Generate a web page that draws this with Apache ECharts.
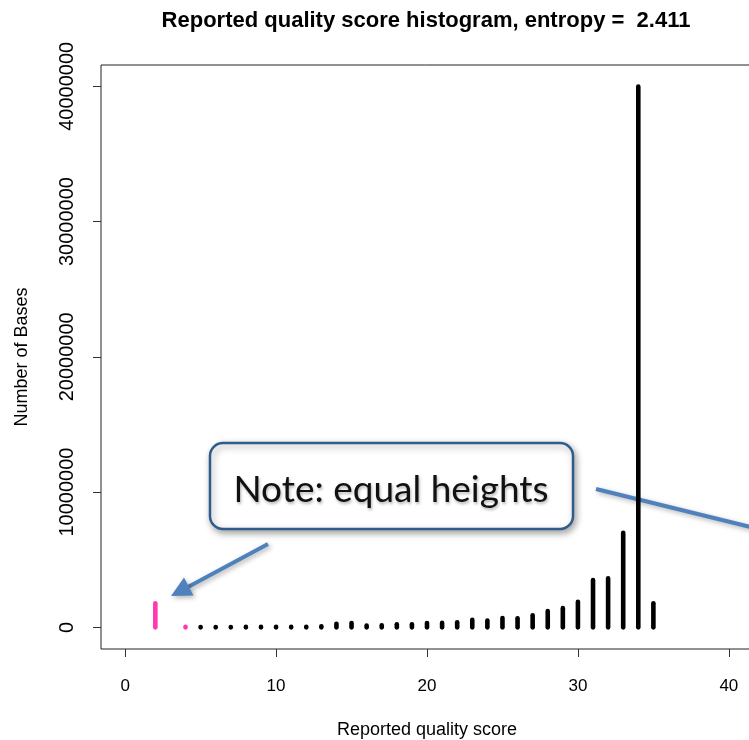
<!DOCTYPE html>
<html>
<head>
<meta charset="utf-8">
<script src="https://cdn.jsdelivr.net/npm/echarts@6/dist/echarts.min.js"></script>
<style>
  html, body { margin: 0; padding: 0; background: #ffffff; }
  #chart { width: 749px; height: 740px; }
</style>
</head>
<body>
<div id="chart"></div>
<script>
// ---- data ----
var titleText = 'Reported quality score histogram, entropy =  2.411';
var xAxisName = 'Reported quality score';
var yAxisName = 'Number of Bases';
var noteText = 'Note: equal heights';

var xTickValues = [0, 10, 20, 30, 40];
var yTickValues = [0, 10000000, 20000000, 30000000, 40000000];

// highlighted (pink) low quality scores
var lowScores = [2, 4];
var lowCounts = [1780000, 40000];

// remaining quality scores
var scores = [5, 6, 7, 8, 9, 10, 11, 12, 13, 14, 15, 16, 17, 18, 19, 20,
              21, 22, 23, 24, 25, 26, 27, 28, 29, 30, 31, 32, 33, 34, 35];
var counts = [30000, 30000, 30000, 35000, 35000, 40000, 35000, 45000, 75000, 270000, 320000,
              130000, 150000, 230000, 230000, 320000, 330000, 380000, 550000, 500000,
              690000, 670000, 890000, 1210000, 1420000, 1890000, 3490000, 3620000,
              7000000, 39980000, 1780000];

function pairs(xs, ys) {
  var out = [];
  for (var i = 0; i < xs.length; i++) out.push([xs[i], ys[i]]);
  return out;
}

function renderSpike(params, api) {
  var x = api.value(0), y = api.value(1);
  var p0 = api.coord([x, 0]);
  var p1 = api.coord([x, y]);
  return {
    type: 'line',
    shape: { x1: p0[0], y1: p0[1], x2: p1[0], y2: p1[1] },
    style: { stroke: api.visual('color'), lineWidth: 4.6, lineCap: 'round' }
  };
}

var FONT = 'Liberation Sans, Arial, Helvetica, sans-serif';
var BLUE = '#4F81BD';

var chart = echarts.init(document.getElementById('chart'), null, { renderer: 'canvas' });

var option = {
  backgroundColor: '#ffffff',
  animation: false,
  title: {
    text: titleText,
    left: 426,
    top: 10,
    padding: 0,
    textAlign: 'center',
    textStyle: { fontFamily: FONT, fontWeight: 'bold', fontSize: 22, color: '#000' }
  },
  grid: {
    left: 101, right: -4, top: 65, bottom: 91,
    outerBoundsMode: 'none',
    containLabel: false,
    show: true, borderColor: '#222', borderWidth: 1, backgroundColor: 'transparent'
  },
  xAxis: {
    type: 'value',
    min: -1.6,
    max: 41.6,
    position: 'bottom',
    name: xAxisName,
    nameLocation: 'middle',
    nameGap: 72,
    nameTextStyle: { fontFamily: FONT, fontSize: 18, color: '#000', verticalAlign: 'top' },
    axisLine: { show: false, onZero: false },
    splitLine: { show: false },
    axisTick: { show: true, customValues: xTickValues, length: 8, inside: false,
                lineStyle: { color: '#333', width: 1 } },
    axisLabel: { customValues: xTickValues, fontFamily: FONT, fontSize: 17, color: '#000', margin: 29 }
  },
  yAxis: {
    type: 'value',
    min: -1600000,
    max: 41580000,
    position: 'left',
    name: yAxisName,
    nameLocation: 'middle',
    nameGap: 70,
    nameRotate: 90,
    nameTextStyle: { fontFamily: FONT, fontSize: 18, color: '#000' },
    axisLine: { show: false, onZero: false },
    splitLine: { show: false },
    axisTick: { show: true, customValues: yTickValues, length: 8, inside: false,
                lineStyle: { color: '#333', width: 1 } },
    axisLabel: {
      customValues: yTickValues, rotate: 90, fontFamily: FONT, fontSize: 20, color: '#000', margin: 24,
      formatter: function (v) { return String(v); }
    }
  },
  series: [
    {
      type: 'custom',
      name: 'low',
      renderItem: renderSpike,
      clip: false,
      z: 3,
      itemStyle: { color: '#FF3AB0' },
      encode: { x: 0, y: 1 },
      data: pairs(lowScores, lowCounts)
    },
    {
      type: 'custom',
      name: 'bases',
      renderItem: renderSpike,
      clip: false,
      z: 3,
      itemStyle: { color: '#000000' },
      encode: { x: 0, y: 1 },
      data: pairs(scores, counts)
    }
  ],
  graphic: {
    elements: [
      // callout arrow pointing to the pink spike
      {
        type: 'group', z: 1,
        children: [
          {
            type: 'line',
            shape: { x1: 268, y1: 544, x2: 188, y2: 587 },
            style: { stroke: BLUE, lineWidth: 4, shadowBlur: 5, shadowOffsetX: 2, shadowOffsetY: 2,
                     shadowColor: 'rgba(0,0,0,0.3)' }
          },
          {
            type: 'polygon',
            shape: { points: [[171, 596], [193.5, 595.5], [184, 577.5]] },
            style: { fill: BLUE, shadowBlur: 5, shadowOffsetX: 2, shadowOffsetY: 2,
                     shadowColor: 'rgba(0,0,0,0.3)' }
          }
        ]
      },
      // second connector running off to the right
      {
        type: 'line', z: 1,
        shape: { x1: 596, y1: 489, x2: 775, y2: 533 },
        style: { stroke: BLUE, lineWidth: 4, shadowBlur: 5, shadowOffsetX: 2, shadowOffsetY: 2,
                 shadowColor: 'rgba(0,0,0,0.3)' }
      },
      // note box
      {
        type: 'rect', z: 1,
        shape: { x: 210, y: 443, width: 363, height: 86, r: 13 },
        style: { fill: '#ffffff', stroke: '#2E5D8C', lineWidth: 2.5,
                 shadowBlur: 7, shadowOffsetX: 2, shadowOffsetY: 3, shadowColor: 'rgba(0,0,0,0.35)' }
      },
      {
        type: 'text', z: 2,
        x: 391, y: 509,
        style: {
          text: noteText,
          font: '37px Lato, "Open Sans", sans-serif',
          fill: '#111',
          align: 'center',
          verticalAlign: 'bottom',
          textShadowBlur: 3, textShadowOffsetX: 1, textShadowOffsetY: 2,
          textShadowColor: 'rgba(0,0,0,0.3)'
        }
      }
    ]
  }
};

chart.setOption(option);
</script>
</body>
</html>
